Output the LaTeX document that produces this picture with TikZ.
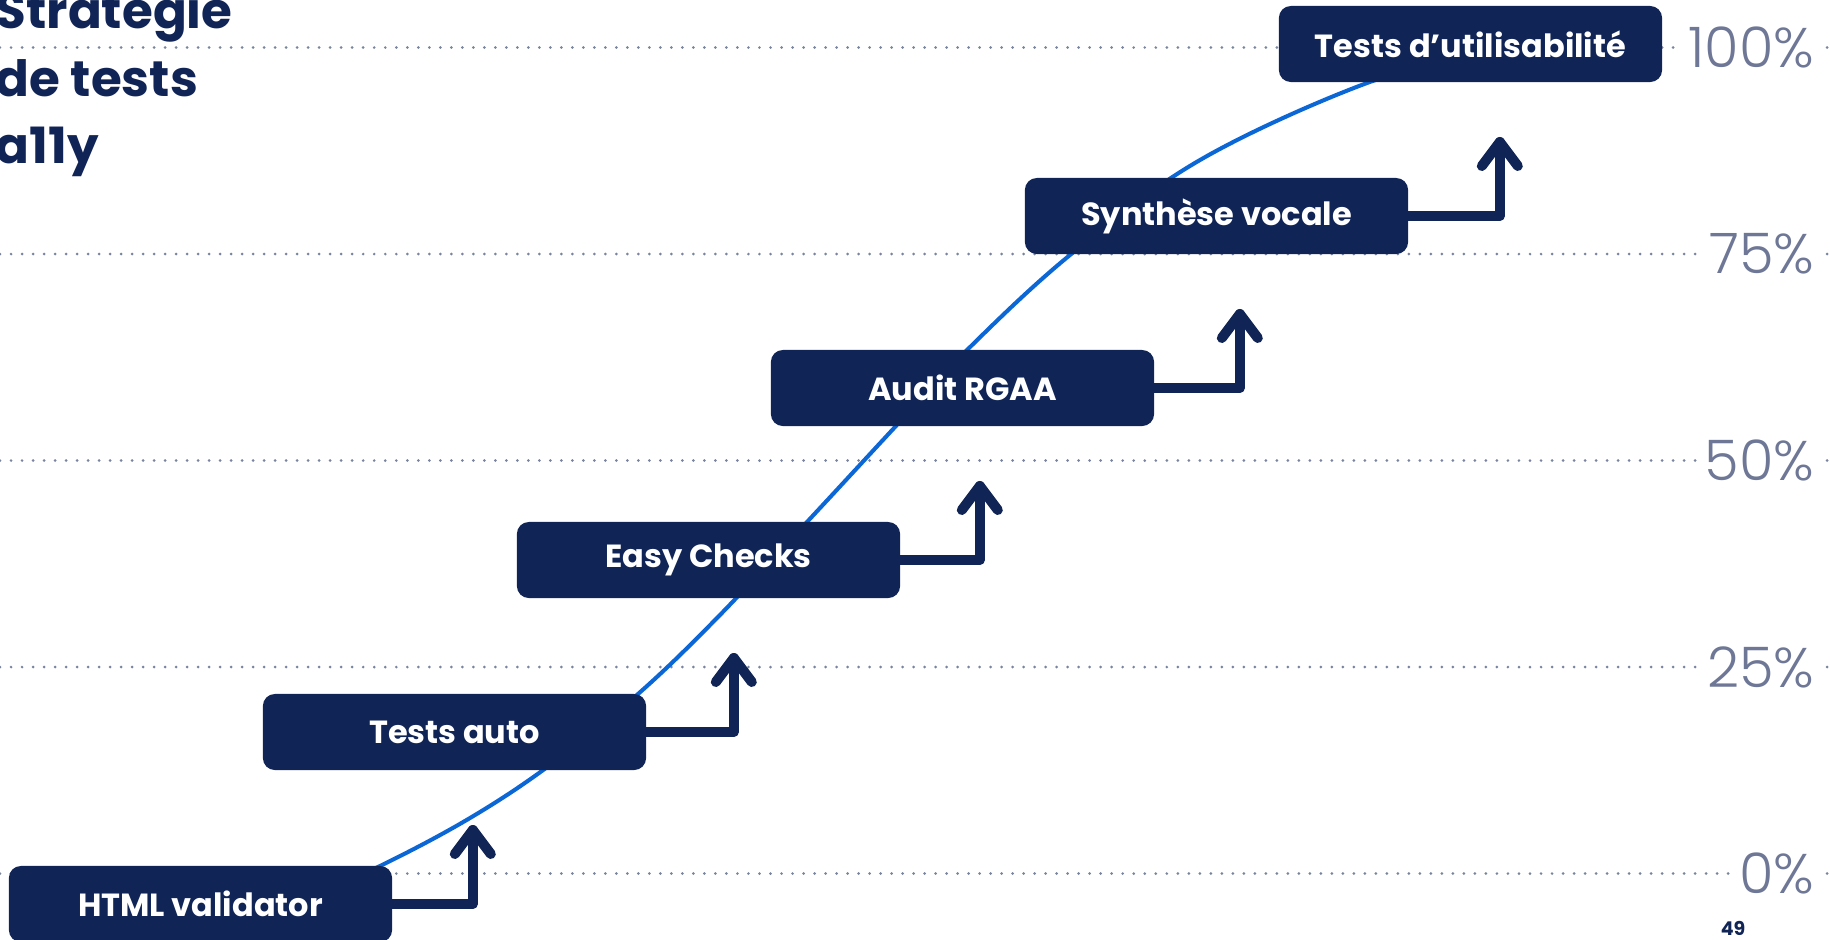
\documentclass[tikz,border=0pt]{standalone}
\usepackage{fontspec}
\setmainfont{Poppins}
\newfontfamily\light{Poppins Light}
\usetikzlibrary{calc}
\definecolor{navy}{HTML}{102456}
\definecolor{curveblue}{HTML}{0B66D6}
\definecolor{pctgrey}{HTML}{6E7896}
\definecolor{dotgrey}{HTML}{7A84A0}

\begin{document}
\begin{tikzpicture}[x=0.01cm,y=-0.01cm,
  stepbox/.style={shape=rectangle,fill=navy,rounded corners=3.4pt,minimum width=3.83cm,minimum height=0.76cm,inner sep=0pt,text=white,font=\bfseries\fontsize{9.1}{11}\selectfont},
  title/.style={anchor=base west,inner sep=0pt,text=navy,font=\bfseries\fontsize{14.2}{17}\selectfont},
  pct/.style={anchor=east,fill=white,inner xsep=2.3pt,inner ysep=0pt,text=pctgrey,font=\light\fontsize{15.9}{18}\selectfont},
  gridline/.style={dotgrey,line width=0.85pt,line cap=round,dash pattern=on 0pt off 3.13pt},
  rise/.style={navy,line width=2.85pt,line cap=round,line join=round}]
\def\dx{254};
\def\dy{172};
\def\gy{206.5};
\def\oy{74};

\useasboundingbox (0,0) rectangle (1830,939);
\clip (0,0) rectangle (1830,939);

\foreach \p [count=\k from 0] in {0,25,50,75,100} {
  \draw[gridline] (0,873.5-\k*\gy) -- (1830,873.5-\k*\gy);
  \node[pct] (p\p) at (1823,873.5-\k*\gy) {\p\%};
}

\node[title] (t1) at (-5,28) {Stratégie};
\node[title] (t2) at (-5,96) {de tests};
\node[title] (t3) at (-5,163) {a11y};

\draw[curveblue,line width=1.15pt] plot[smooth,tension=0.6] coordinates {(290,906) (380,866) (470,818) (550,765) (638,694) (717,618) (807,522) (895,427) (965,352) (1070,255) (1200,160) (1367,83) (1470,60)};

\foreach \n/\lbl [count=\i from 0] in {html/HTML validator,auto/Tests auto,easy/Easy Checks,rgaa/Audit RGAA,voc/Synthèse vocale,usab/Tests d’utilisabilité}
  \node[stepbox] (\n) at (200.5+\i*\dx,904-\i*\dy) {\lbl};

\foreach \n/\ox in {html/80,auto/87,easy/79,rgaa/85,voc/91} {
  \draw[rise] (\n.east) -- ++(\ox,0) coordinate (\n-bend) -- ++(0,-\oy) coordinate (\n-tip);
  \draw[rise] ($(\n-tip)+(-18,24)$) -- (\n-tip) -- ++(18,24);
}

\node[text=navy,font=\bfseries\fontsize{5.4}{6}\selectfont] (page) at (1733,928) {49};
\end{tikzpicture}
\end{document}
